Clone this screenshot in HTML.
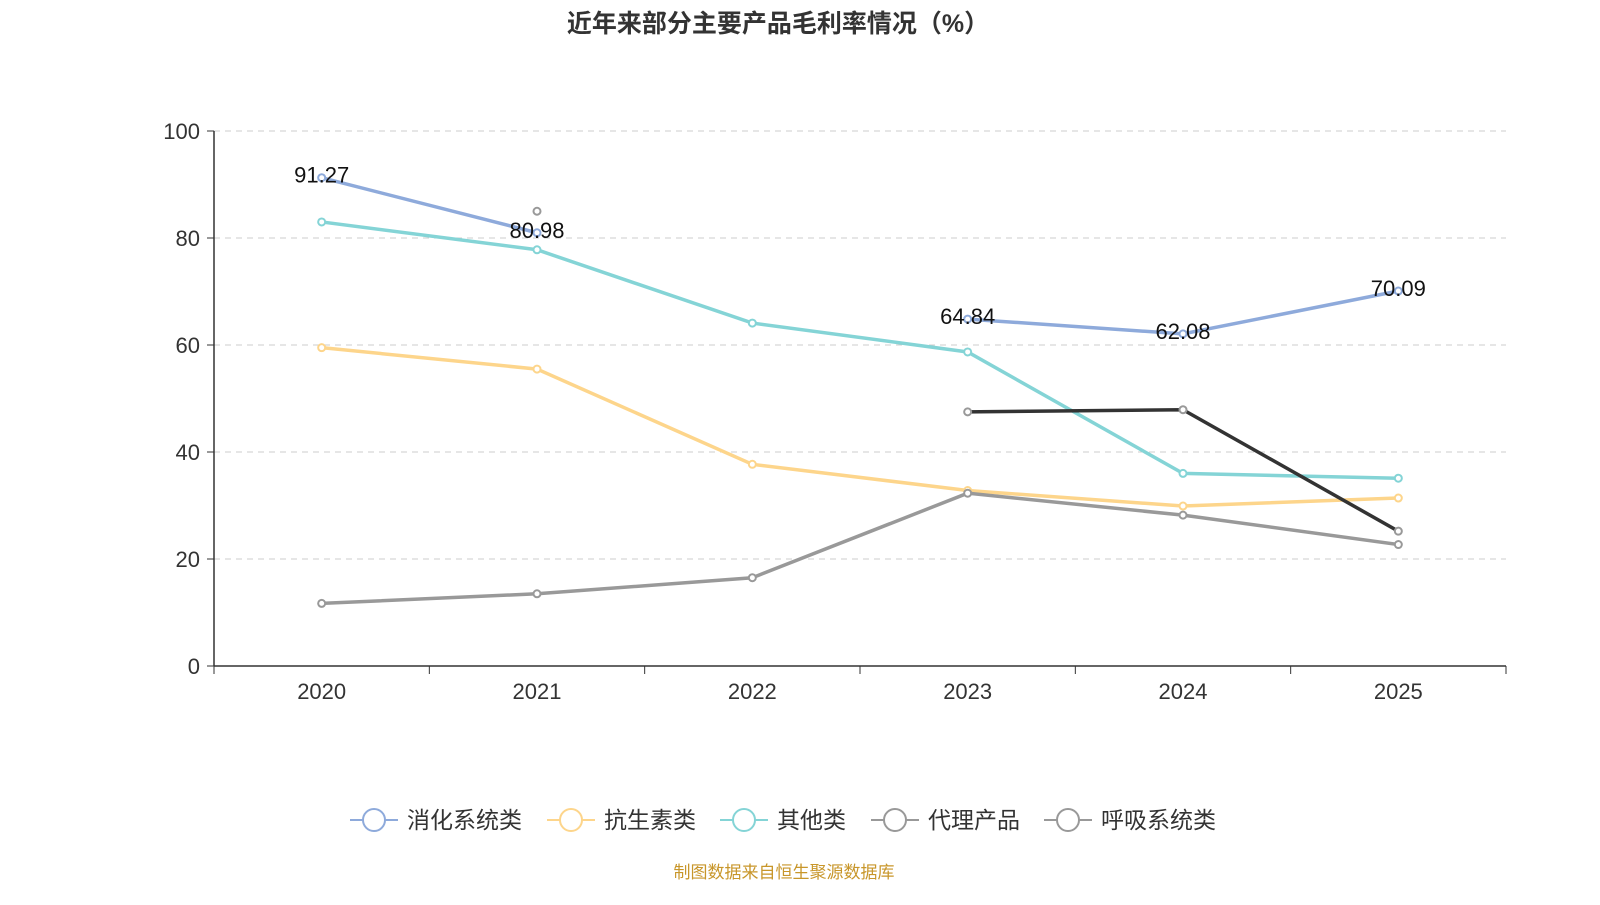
<!DOCTYPE html>
<html><head><meta charset="utf-8"><style>
body{margin:0;background:#fff;width:1600px;height:900px;overflow:hidden;font-family:"Liberation Sans","Noto Sans CJK SC",sans-serif}
</style></head><body>
<svg id="chart" width="1600" height="900" xmlns="http://www.w3.org/2000/svg" font-family="Liberation Sans, Noto Sans CJK SC, sans-serif">
<text x="778" y="32" text-anchor="middle" font-size="25" font-weight="bold" fill="#333">近年来部分主要产品毛利率情况（%）</text>
<g id="grid"></g><g id="axes"></g><g id="series"></g><g id="legend"></g>
<text x="784" y="878" text-anchor="middle" font-size="17" fill="#c8962a">制图数据来自恒生聚源数据库</text>
</svg>
<script>
const categories=["2020","2021","2022","2023","2024","2025"];
const yTicks=[0,20,40,60,80,100];
const seriesNames=["消化系统类","抗生素类","其他类","代理产品","呼吸系统类"];
const digestive=[91.27,80.98,null,64.84,62.08,70.09];
const antibiotic=[59.5,55.5,37.7,32.8,29.9,31.4];
const other=[83.0,77.8,64.1,58.7,36.0,35.1];
const agency=[null,85.0,null,47.5,47.9,25.2];
const respiratory=[11.7,13.5,16.5,32.3,28.2,22.7];
const labelValues=[91.27,80.98,null,64.84,62.08,70.09];

const NS="http://www.w3.org/2000/svg";
const L=214,R=1506,T=131,B=666;
const xs=i=>L+(R-L)/categories.length*(i+0.5);
const ys=v=>B-(B-T)*v/100;
function mk(tag,attrs,parent){const e=document.createElementNS(NS,tag);for(const k in attrs)e.setAttribute(k,attrs[k]);parent.appendChild(e);return e;}
const grid=document.getElementById('grid'),axes=document.getElementById('axes'),ser=document.getElementById('series'),leg=document.getElementById('legend');
yTicks.forEach(t=>{
  if(t>0){const g=mk('line',{x1:L,x2:R,y1:ys(t),y2:ys(t),stroke:'#ccc','stroke-dasharray':'6,5'},grid);
  
  }
  const tk=mk('line',{x1:L-7,x2:L,y1:ys(t),y2:ys(t),stroke:'#333'},axes);
  
  
  const tx=mk('text',{x:L-14,y:ys(t)+8,'text-anchor':'end','font-size':'22',fill:'#333'},axes);tx.textContent=t;
  
  
});
const ya=mk('line',{x1:L,x2:L,y1:T,y2:B,stroke:'#333','stroke-width':1.5},axes);


const xa=mk('line',{x1:L,x2:R,y1:B,y2:B,stroke:'#333','stroke-width':1.5},axes);


for(let i=0;i<=categories.length;i++){const x=L+(R-L)/categories.length*i;const tk=mk('line',{x1:x,x2:x,y1:B,y2:B+8,stroke:'#333'},axes);
  
  }
categories.forEach((c,i)=>{const tx=mk('text',{x:xs(i),y:B+33,'text-anchor':'middle','font-size':'22',fill:'#333'},axes);tx.textContent=c;
  
  });
const defs=[[digestive,'#8eaadb','#8eaadb'],[antibiotic,'#fdd58b','#fdd58b'],[other,'#84d4d6','#84d4d6'],[agency,'#333','#999'],[respiratory,'#999','#999']];
defs.forEach(([d,c,pc],si)=>{
  let seg=[];const segs=[];
  d.forEach((v,i)=>{if(v==null){if(seg.length)segs.push(seg);seg=[];}else seg.push([xs(i),ys(v)]);});
  if(seg.length)segs.push(seg);
  segs.forEach(s=>{if(s.length>1){const p=mk('polyline',{points:s.map(q=>q.join(',')).join(' '),fill:'none',stroke:c,'stroke-width':3.5},ser);
    
    }});
  d.forEach((v,i)=>{if(v==null)return;const pt=mk('circle',{cx:xs(i),cy:ys(v),r:3.5,fill:'#fff',stroke:pc,'stroke-width':2},ser);
    
    });
});
labelValues.forEach((v,i)=>{if(v==null)return;const tx=mk('text',{x:xs(i),y:ys(v)+5,'text-anchor':'middle','font-size':'22',fill:'#111'},ser);tx.textContent=v.toFixed(2);
  
  });
const legX=[350,547,720,871,1044],legC=['#8eaadb','#fdd58b','#84d4d6','#999','#999'];
seriesNames.forEach((n,i)=>{const g=mk('g',{},leg);
  
  
  mk('line',{x1:legX[i],x2:legX[i]+48,y1:820,y2:820,stroke:legC[i],'stroke-width':2},g);
  mk('circle',{cx:legX[i]+24,cy:820,r:11,fill:'#fff',stroke:legC[i],'stroke-width':2},g);
  const t=mk('text',{x:legX[i]+57,y:828,'font-size':'23',fill:'#333'},g);t.textContent=n;});
</script>
</body></html>
